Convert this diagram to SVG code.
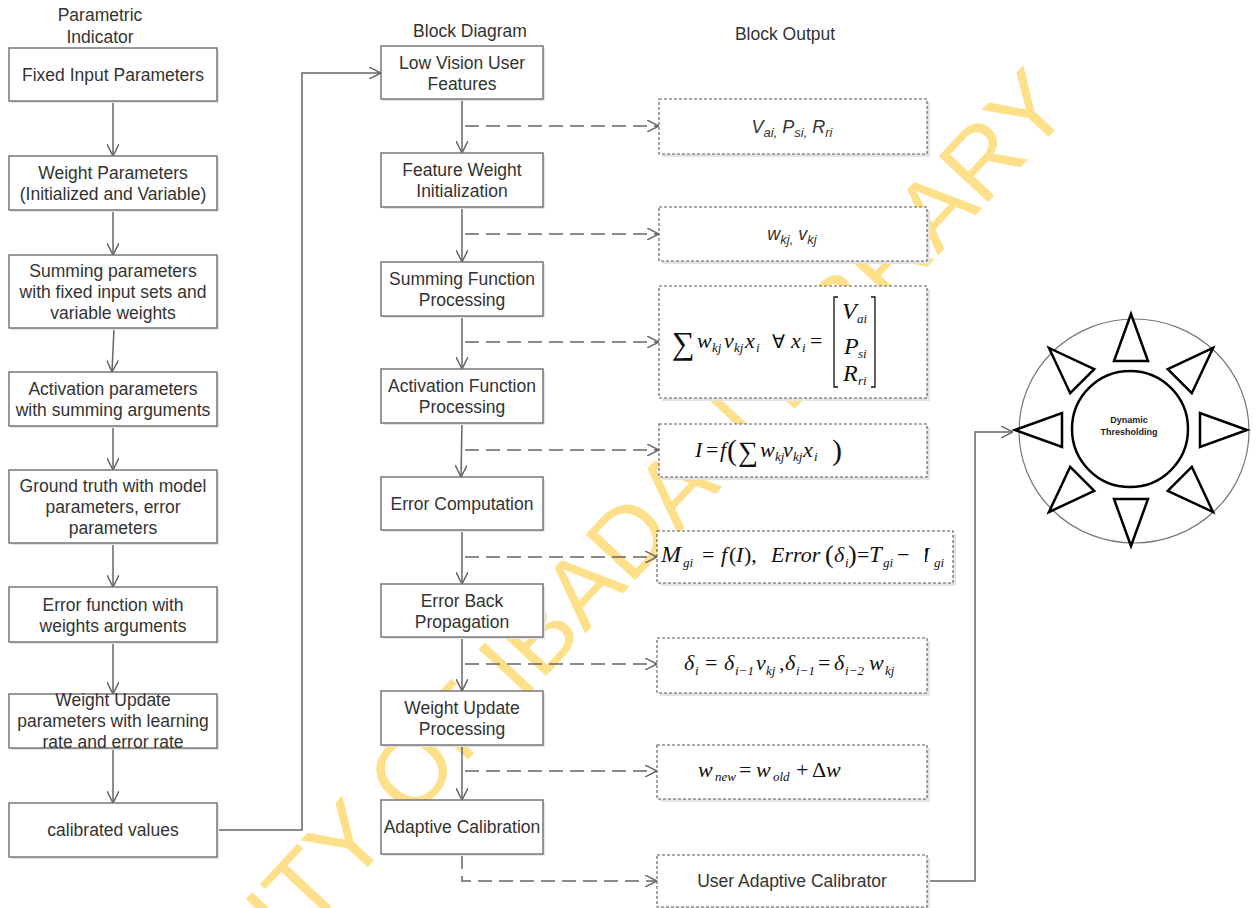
<svg xmlns="http://www.w3.org/2000/svg" width="1258" height="908" viewBox="0 0 1258 908">
  <style>
    .bg { fill: #ffffff; }
    .box { fill: #ffffff; stroke: #6e6e6e; stroke-width: 1.4; }
    .shadow { fill: #e4e4e4; }
    .dbox { fill: #ffffff; stroke: #5a5a5a; stroke-width: 1.1; stroke-dasharray: 3 2; }
    .lbl { font-family: "Liberation Sans", Arial, sans-serif; font-size: 17.5px; fill: #333333; text-anchor: middle; }
    .hdr { font-family: "Liberation Sans", Arial, sans-serif; font-size: 17.5px; fill: #333333; text-anchor: middle; }
    .sym { font-family: "Liberation Sans", Arial, sans-serif; font-size: 18px; font-style: italic; fill: #333333; text-anchor: middle; }
    .m { font-family: "Liberation Serif", "Times New Roman", serif; font-size: 22px; font-style: italic; fill: #111111; }
    .s { font-size: 13px; }
    .up { font-style: normal; }
    .flow { fill: none; stroke: #666666; stroke-width: 1.5; }
    .dash { fill: none; stroke: #666666; stroke-width: 1.5; stroke-dasharray: 14 7; }
    .wm { font-family: "Liberation Sans", Arial, sans-serif; font-size: 98px; fill: #FFE08A; }
    .tri { fill: #ffffff; stroke: #000000; stroke-width: 2.5; stroke-linejoin: miter; }
    .dt { font-family: "Liberation Sans", Arial, sans-serif; font-size: 9px; font-weight: bold; fill: #222222; text-anchor: middle; }
  </style>
  <defs>
    <marker id="arrow" viewBox="0 0 12 12" refX="12" refY="6" markerWidth="12" markerHeight="12" markerUnits="userSpaceOnUse" orient="auto">
      <path d="M0,0 L12,6 L0,12" fill="none" stroke="#666666" stroke-width="1.5"/>
    </marker>
    <clipPath id="mcut">
      <rect x="925" y="540" width="8" height="30"/>
    </clipPath>
  </defs>

  <rect class="bg" x="0" y="0" width="1258" height="908"/>

  <!-- library watermark -->
  <text class="wm" x="-8" y="1270" transform="rotate(-47 -8 1270)">UNIVERSITY OF IBADAN LIBRARY</text>

  <!-- column headings -->
  <g id="headings">
    <text class="hdr" x="100" y="21">Parametric</text>
    <text class="hdr" x="100" y="43">Indicator</text>
    <text class="hdr" x="470" y="37">Block Diagram</text>
    <text class="hdr" x="785" y="40">Block Output</text>
  </g>

  <!-- connectors -->
  <g id="connectors">
    <!-- parametric indicator chain -->
    <line class="flow" x1="113" y1="101" x2="113" y2="156" marker-end="url(#arrow)"/>
    <line class="flow" x1="113" y1="210" x2="113" y2="255" marker-end="url(#arrow)"/>
    <line class="flow" x1="114" y1="328" x2="112" y2="372" marker-end="url(#arrow)"/>
    <line class="flow" x1="113" y1="426" x2="113" y2="470" marker-end="url(#arrow)"/>
    <line class="flow" x1="113" y1="543" x2="113" y2="587" marker-end="url(#arrow)"/>
    <line class="flow" x1="113" y1="642" x2="113" y2="694" marker-end="url(#arrow)"/>
    <line class="flow" x1="113" y1="748" x2="113" y2="803" marker-end="url(#arrow)"/>
    <polyline class="flow" points="217,830 302,830 302,73 381,73" marker-end="url(#arrow)"/>

    <!-- block diagram chain -->
    <line class="flow" x1="462" y1="99" x2="462" y2="153" marker-end="url(#arrow)"/>
    <line class="flow" x1="462" y1="207" x2="462" y2="262" marker-end="url(#arrow)"/>
    <line class="flow" x1="462" y1="316" x2="462" y2="369" marker-end="url(#arrow)"/>
    <line class="flow" x1="462" y1="423" x2="461" y2="477" marker-end="url(#arrow)"/>
    <line class="flow" x1="462" y1="530" x2="462" y2="584" marker-end="url(#arrow)"/>
    <line class="flow" x1="462" y1="637" x2="462" y2="691" marker-end="url(#arrow)"/>
    <line class="flow" x1="462" y1="745" x2="462" y2="800" marker-end="url(#arrow)"/>

    <!-- block outputs -->
    <line class="dash" x1="465" y1="126" x2="659" y2="126" marker-end="url(#arrow)"/>
    <line class="dash" x1="465" y1="234" x2="659" y2="234" marker-end="url(#arrow)"/>
    <line class="dash" x1="465" y1="342" x2="659" y2="342" marker-end="url(#arrow)"/>
    <line class="dash" x1="465" y1="450" x2="659" y2="450" marker-end="url(#arrow)"/>
    <line class="dash" x1="465" y1="557" x2="657" y2="557" marker-end="url(#arrow)"/>
    <line class="dash" x1="465" y1="664" x2="657" y2="664" marker-end="url(#arrow)"/>
    <line class="dash" x1="465" y1="771" x2="657" y2="771" marker-end="url(#arrow)"/>
    <polyline class="dash" points="462,855 462,881 657,881" marker-end="url(#arrow)"/>

    <!-- calibrator to thresholding -->
    <polyline class="flow" points="927,881 975,881 975,432 1013,432" marker-end="url(#arrow)"/>
  </g>

  <!-- parametric indicator column -->
  <g id="p-fixed-input">
    <rect class="shadow" x="11" y="50" width="208" height="53"/>
    <rect class="box" x="9" y="48" width="208" height="53"/>
    <text class="lbl" x="113" y="80.5">Fixed Input Parameters</text>
  </g>
  <g id="p-weight-params">
    <rect class="shadow" x="11" y="158" width="208" height="54"/>
    <rect class="box" x="9" y="156" width="208" height="54"/>
    <text class="lbl" x="113" y="179">Weight Parameters</text>
    <text class="lbl" x="113" y="200">(Initialized and Variable)</text>
  </g>
  <g id="p-summing">
    <rect class="shadow" x="11" y="257" width="208" height="73"/>
    <rect class="box" x="9" y="255" width="208" height="73"/>
    <text class="lbl" x="113" y="277">Summing parameters</text>
    <text class="lbl" x="113" y="298">with fixed input sets and</text>
    <text class="lbl" x="113" y="319">variable weights</text>
  </g>
  <g id="p-activation">
    <rect class="shadow" x="11" y="374" width="208" height="54"/>
    <rect class="box" x="9" y="372" width="208" height="54"/>
    <text class="lbl" x="113" y="395">Activation parameters</text>
    <text class="lbl" x="113" y="416">with summing arguments</text>
  </g>
  <g id="p-ground-truth">
    <rect class="shadow" x="11" y="472" width="208" height="73"/>
    <rect class="box" x="9" y="470" width="208" height="73"/>
    <text class="lbl" x="113" y="492">Ground truth with model</text>
    <text class="lbl" x="113" y="513">parameters, error</text>
    <text class="lbl" x="113" y="534">parameters</text>
  </g>
  <g id="p-error-function">
    <rect class="shadow" x="11" y="589" width="208" height="55"/>
    <rect class="box" x="9" y="587" width="208" height="55"/>
    <text class="lbl" x="113" y="610.5">Error function with</text>
    <text class="lbl" x="113" y="631.5">weights arguments</text>
  </g>
  <g id="p-weight-update">
    <rect class="shadow" x="11" y="696" width="208" height="54"/>
    <rect class="box" x="9" y="694" width="208" height="54"/>
    <text class="lbl" x="113" y="706">Weight Update</text>
    <text class="lbl" x="113" y="727">parameters with learning</text>
    <text class="lbl" x="113" y="748">rate and error rate</text>
  </g>
  <g id="p-calibrated">
    <rect class="shadow" x="11" y="805" width="208" height="54"/>
    <rect class="box" x="9" y="803" width="208" height="54"/>
    <text class="lbl" x="113" y="836">calibrated values</text>
  </g>

  <!-- block diagram column -->
  <g id="b-low-vision">
    <rect class="shadow" x="383" y="48" width="162" height="53"/>
    <rect class="box" x="381" y="46" width="162" height="53"/>
    <text class="lbl" x="462" y="68.5">Low Vision User</text>
    <text class="lbl" x="462" y="89.5">Features</text>
  </g>
  <g id="b-feature-weight">
    <rect class="shadow" x="383" y="155" width="162" height="54"/>
    <rect class="box" x="381" y="153" width="162" height="54"/>
    <text class="lbl" x="462" y="176">Feature Weight</text>
    <text class="lbl" x="462" y="197">Initialization</text>
  </g>
  <g id="b-summing">
    <rect class="shadow" x="383" y="264" width="162" height="54"/>
    <rect class="box" x="381" y="262" width="162" height="54"/>
    <text class="lbl" x="462" y="285">Summing Function</text>
    <text class="lbl" x="462" y="306">Processing</text>
  </g>
  <g id="b-activation">
    <rect class="shadow" x="383" y="371" width="162" height="54"/>
    <rect class="box" x="381" y="369" width="162" height="54"/>
    <text class="lbl" x="462" y="392">Activation Function</text>
    <text class="lbl" x="462" y="413">Processing</text>
  </g>
  <g id="b-error-computation">
    <rect class="shadow" x="383" y="479" width="162" height="53"/>
    <rect class="box" x="381" y="477" width="162" height="53"/>
    <text class="lbl" x="462" y="509.5">Error Computation</text>
  </g>
  <g id="b-back-propagation">
    <rect class="shadow" x="383" y="586" width="162" height="53"/>
    <rect class="box" x="381" y="584" width="162" height="53"/>
    <text class="lbl" x="462" y="606.5">Error Back</text>
    <text class="lbl" x="462" y="627.5">Propagation</text>
  </g>
  <g id="b-weight-update">
    <rect class="shadow" x="383" y="693" width="162" height="54"/>
    <rect class="box" x="381" y="691" width="162" height="54"/>
    <text class="lbl" x="462" y="714">Weight Update</text>
    <text class="lbl" x="462" y="735">Processing</text>
  </g>
  <g id="b-adaptive-calibration">
    <rect class="shadow" x="383" y="802" width="162" height="54"/>
    <rect class="box" x="381" y="800" width="162" height="54"/>
    <text class="lbl" x="462" y="833">Adaptive Calibration</text>
  </g>

  <!-- block output column -->
  <g id="o-features">
    <rect class="shadow" x="662" y="102" width="268" height="55"/>
    <rect class="dbox" x="659" y="99" width="268" height="55"/>
    <text class="sym" x="792" y="133">V<tspan font-size="13" dy="4">ai,</tspan><tspan dy="-4"> P</tspan><tspan font-size="13" dy="4">si,</tspan><tspan dy="-4"> R</tspan><tspan font-size="13" dy="4">ri</tspan></text>
  </g>
  <g id="o-weights">
    <rect class="shadow" x="662" y="210" width="268" height="54"/>
    <rect class="dbox" x="659" y="207" width="268" height="54"/>
    <text class="sym" x="792" y="240">w<tspan font-size="13" dy="4">kj,</tspan><tspan dy="-4"> v</tspan><tspan font-size="13" dy="4">kj</tspan></text>
  </g>
  <g id="o-summing">
    <rect class="shadow" x="662" y="289" width="268" height="112"/>
    <rect class="dbox" x="659" y="286" width="268" height="112"/>
    <text class="m">
      <tspan class="up" x="672" y="354" font-size="32">∑</tspan>
      <tspan x="697" y="348">w</tspan><tspan class="s" x="712" y="352">kj</tspan>
      <tspan x="724" y="348">v</tspan><tspan class="s" x="734" y="352">kj</tspan>
      <tspan x="745" y="348">x</tspan><tspan class="s" x="756" y="352">i</tspan>
      <tspan class="up" x="772" y="348" font-size="19">∀</tspan>
      <tspan x="791" y="348">x</tspan><tspan class="s" x="802" y="352">i</tspan>
      <tspan class="up" x="810" y="348">=</tspan>
      <tspan x="842" y="319" font-size="24">V</tspan><tspan class="s" x="857" y="323">ai</tspan>
      <tspan x="844" y="354" font-size="24">P</tspan><tspan class="s" x="858" y="358">si</tspan>
      <tspan x="843" y="381" font-size="24">R</tspan><tspan class="s" x="858" y="385">ri</tspan>
    </text>
    <polyline points="838,297 834,297 834,387 838,387" fill="none" stroke="#111111" stroke-width="1.3"/>
    <polyline points="871,297 875,297 875,387 871,387" fill="none" stroke="#111111" stroke-width="1.3"/>
  </g>
  <g id="o-activation">
    <rect class="shadow" x="662" y="427" width="268" height="53"/>
    <rect class="dbox" x="659" y="424" width="268" height="53"/>
    <text class="m">
      <tspan x="695" y="457">I</tspan>
      <tspan class="up" x="706" y="457">=</tspan>
      <tspan x="720" y="457">f</tspan>
      <tspan class="up" x="727" y="460" font-size="30">(</tspan>
      <tspan class="up" x="738" y="461" font-size="28">∑</tspan>
      <tspan x="760" y="457">w</tspan><tspan class="s" x="775" y="461">kj</tspan>
      <tspan x="783" y="457">v</tspan><tspan class="s" x="793" y="461">kj</tspan>
      <tspan x="803" y="457">x</tspan><tspan class="s" x="814" y="461">i</tspan>
      <tspan class="up" x="832" y="460" font-size="30">)</tspan>
    </text>
  </g>
  <g id="o-error">
    <rect class="shadow" x="660" y="534" width="296" height="52"/>
    <rect class="dbox" x="657" y="531" width="296" height="52"/>
    <text class="m" font-size="21px">
      <tspan x="661" y="562" font-size="24">M</tspan><tspan class="s" x="683" y="567">gi</tspan>
      <tspan class="up" x="702" y="562">=</tspan>
      <tspan x="721" y="562">f</tspan><tspan class="up" x="729" y="562">(</tspan><tspan x="736" y="562">I</tspan><tspan class="up" x="744" y="562">),</tspan>
      <tspan x="771" y="562">Error</tspan>
      <tspan class="up" x="825" y="563" font-size="26">(</tspan>
      <tspan x="834" y="562">δ</tspan><tspan class="s" x="845" y="567">i</tspan>
      <tspan class="up" x="848" y="563" font-size="26">)</tspan>
      <tspan class="up" x="857" y="562">=</tspan>
      <tspan x="869" y="562" font-size="23">T</tspan><tspan class="s" x="883" y="567">gi</tspan>
      <tspan class="up" x="897" y="562">−</tspan>
      <tspan class="s" x="934" y="567">gi</tspan>
    </text>
    <text class="m" x="911" y="562" font-size="24px" clip-path="url(#mcut)">M</text>
  </g>
  <g id="o-backprop">
    <rect class="shadow" x="660" y="641" width="270" height="55"/>
    <rect class="dbox" x="657" y="638" width="270" height="55"/>
    <text class="m">
      <tspan x="684" y="670">δ</tspan><tspan class="s" x="695" y="675">i</tspan>
      <tspan class="up" x="705" y="670">=</tspan>
      <tspan x="724" y="670">δ</tspan><tspan class="s" x="735" y="675">i−1</tspan>
      <tspan x="756" y="670">v</tspan><tspan class="s" x="766" y="675" font-size="12">kj</tspan>
      <tspan class="up" x="779" y="670">,</tspan>
      <tspan x="785" y="670">δ</tspan><tspan class="s" x="796" y="675">i−1</tspan>
      <tspan class="up" x="818" y="670">=</tspan>
      <tspan x="834" y="670">δ</tspan><tspan class="s" x="845" y="675">i−2</tspan>
      <tspan x="869" y="670">w</tspan><tspan class="s" x="885" y="675">kj</tspan>
    </text>
  </g>
  <g id="o-update">
    <rect class="shadow" x="660" y="748" width="270" height="54"/>
    <rect class="dbox" x="657" y="745" width="270" height="54"/>
    <text class="m">
      <tspan x="698" y="777">w</tspan><tspan class="s" x="715" y="781">new</tspan>
      <tspan class="up" x="739" y="777">=</tspan>
      <tspan x="756" y="777">w</tspan><tspan class="s" x="773" y="781">old</tspan>
      <tspan class="up" x="796" y="777">+</tspan>
      <tspan class="up" x="812" y="777">Δ</tspan><tspan x="826" y="777">w</tspan>
    </text>
  </g>
  <g id="o-calibrator">
    <rect class="shadow" x="660" y="858" width="270" height="52"/>
    <rect class="dbox" x="657" y="855" width="270" height="52"/>
    <text class="lbl" x="792" y="887">User Adaptive Calibrator</text>
  </g>

  <!-- dynamic thresholding emblem -->
  <g id="dynamic-thresholding">
    <ellipse cx="1134" cy="431" rx="115" ry="112" fill="#ffffff" stroke="#777777" stroke-width="1.2"/>
    <g transform="translate(1131 430)">
      <polygon class="tri" points="0,-116 -17,-69 17,-69"/>
      <polygon class="tri" points="0,-116 -17,-69 17,-69" transform="rotate(45)"/>
      <polygon class="tri" points="0,-116 -17,-69 17,-69" transform="rotate(90)"/>
      <polygon class="tri" points="0,-116 -17,-69 17,-69" transform="rotate(135)"/>
      <polygon class="tri" points="0,-116 -17,-69 17,-69" transform="rotate(180)"/>
      <polygon class="tri" points="0,-116 -17,-69 17,-69" transform="rotate(225)"/>
      <polygon class="tri" points="0,-116 -17,-69 17,-69" transform="rotate(270)"/>
      <polygon class="tri" points="0,-116 -17,-69 17,-69" transform="rotate(315)"/>
    </g>
    <circle cx="1130" cy="429" r="58" fill="#ffffff" stroke="#000000" stroke-width="2.5"/>
    <text class="dt" x="1129" y="423">Dynamic</text>
    <text class="dt" x="1129" y="435">Thresholding</text>
  </g>
</svg>
